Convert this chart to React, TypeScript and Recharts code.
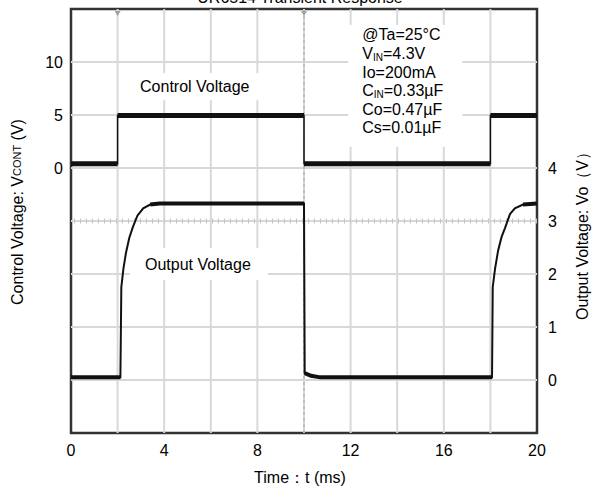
import React from 'react';
import {
  ComposedChart,
  Line,
  XAxis,
  YAxis,
  ReferenceLine,
  ReferenceArea,
  ReferenceDot,
} from 'recharts';

// ---- data ----
const timeTicks = [0, 4, 8, 12, 16, 20];
const gridTimes = [2, 4, 6, 8, 10, 12, 14, 16, 18];
const controlTicks = [0, 5, 10];
const outputTicks = [0, 1, 2, 3, 4];
const gridVo = [0, 1, 2, 3, 4, 5, 6];
const triggerTimes = [2, 10];

// Control voltage (V) vs time (ms)
const controlTimes = [0, 2, 2, 10, 10, 18, 18, 20];
const controlValues = [0.4, 0.4, 4.95, 4.95, 0.4, 0.4, 4.95, 4.95];

// Output voltage (V) vs time (ms)
const outputTimes = [
  0, 2.12, 2.16, 2.25, 2.36, 2.5, 2.65, 2.85, 3.1, 3.4, 3.8, 10.0, 10.03, 10.3, 10.7,
  18.07, 18.1, 18.2, 18.33, 18.48, 18.63, 18.84, 19.05, 19.4, 20,
];
const outputValues = [
  0.05, 0.05, 1.75, 2.1, 2.4, 2.68, 2.88, 3.1, 3.24, 3.31, 3.33, 3.33, 0.13, 0.08, 0.05,
  0.05, 1.75, 2.1, 2.44, 2.7, 2.87, 3.13, 3.24, 3.31, 3.33,
];
// time ranges where the output trace is flat (drawn thicker, like the scope trace)
const outputFlatRanges = [
  [0, 2.12],
  [3.4, 10],
  [10.03, 18.07],
  [19.4, 20],
];

const paramLines = ['@Ta=25°C', 'V|IN|=4.3V', 'Io=200mA', 'C|IN|=0.33µF', 'Co=0.47µF', 'Cs=0.01µF'];

// annotation boxes (data coordinates: time ms, output volts) – grid is hidden behind them
const ctrlBox = { x1: 2.62, x2: 8.24, y1: 5.28, y2: 5.79 };
const outBox = { x1: 2.53, x2: 8.45, y1: 1.89, y2: 2.49 };
const paramBox = { x1: 11.9, x2: 16.8, y1: 4.4, y2: 6.7 };
const boxes = [ctrlBox, outBox, paramBox];

// ---- derived tables ----
const controlData = controlTimes.map((t, i) => ({ t, v: controlValues[i] }));
const controlFlat: { t: number; v: number | null }[] = [];
for (let i = 0; i + 1 < controlTimes.length; i += 2) {
  controlFlat.push({ t: controlTimes[i], v: controlValues[i] });
  controlFlat.push({ t: controlTimes[i + 1], v: controlValues[i + 1] });
  controlFlat.push({ t: controlTimes[i + 1], v: null });
}
const outputData = outputTimes.map((t, i) => ({ t, v: outputValues[i] }));
const outputFlat: { t: number; v: number | null }[] = [];
outputFlatRanges.forEach(([a, b]) => {
  outputData.forEach((p) => {
    if (p.t >= a && p.t <= b) outputFlat.push({ t: p.t, v: p.v });
  });
  outputFlat.push({ t: b, v: null });
});

function subtract(lo: number, hi: number, cuts: number[][]) {
  const sorted = [...cuts].sort((a, b) => a[0] - b[0]);
  const res: number[][] = [];
  let s = lo;
  sorted.forEach(([a, b]) => {
    if (a > s) res.push([s, a]);
    s = Math.max(s, b);
  });
  if (s < hi) res.push([s, hi]);
  return res;
}

const vSegments: { key: string; seg: { x: number; y: number }[] }[] = [];
gridTimes.forEach((t) => {
  const cuts = boxes.filter((b) => b.x1 < t && t < b.x2).map((b) => [b.y1, b.y2]);
  subtract(-1, 7, cuts).forEach(([a, b], i) => {
    vSegments.push({ key: `v${t}-${i}`, seg: [{ x: t, y: a }, { x: t, y: b }] });
  });
});
const hSegments: { key: string; seg: { x: number; y: number }[] }[] = [];
gridVo.forEach((v) => {
  const cuts = boxes.filter((b) => b.y1 < v && v < b.y2).map((b) => [b.x1, b.x2]);
  subtract(0, 20, cuts).forEach(([a, b], i) => {
    hSegments.push({ key: `h${v}-${i}`, seg: [{ x: a, y: v }, { x: b, y: v }] });
  });
});

const FONT = '"Liberation Sans", Arial, Helvetica, sans-serif';
const GRID = '#d8d8d8';

const LeftAxisLabel = (props: any) => {
  const vb = props.viewBox;
  const cx = vb.x + vb.width - 54;
  const cy = vb.y + vb.height / 2 - 9;
  return (
    <text
      x={cx}
      y={cy}
      transform={`rotate(-90, ${cx}, ${cy})`}
      textAnchor="middle"
      dominantBaseline="central"
      fontSize={16}
      fill="#000"
      fontFamily={FONT}
    >
      Control Voltage: V<tspan fontSize={11}>CONT</tspan> (V)
    </text>
  );
};

const RightAxisLabel = (props: any) => {
  const vb = props.viewBox;
  const cx = vb.x + 45;
  const cy = vb.y + vb.height / 2 + 11;
  return (
    <text
      x={cx}
      y={cy}
      transform={`rotate(-90, ${cx}, ${cy})`}
      textAnchor="middle"
      dominantBaseline="central"
      fontSize={16}
      fill="#000"
      fontFamily={FONT}
    >
      Output Voltage: Vo（V）
    </text>
  );
};

const TimeLabel = (props: any) => {
  const vb = props.viewBox;
  const cx = vb.x + vb.width / 2 - 4;
  const cy = vb.y + 44;
  return (
    <text x={cx} y={cy} textAnchor="middle" dominantBaseline="central" fontSize={16} fill="#000" fontFamily={FONT}>
      Time：t (ms)
    </text>
  );
};

const ParamLabel = (props: any) => {
  const vb = props.viewBox;
  const x = vb.x + 14;
  return (
    <text fontSize={16} fill="#000" fontFamily={FONT}>
      {paramLines.map((line, i) => {
        const parts = line.split('|');
        const y = vb.y + 10 + i * 18.6;
        if (parts.length === 1) {
          return (
            <tspan key={i} x={x} y={y} dominantBaseline="central">
              {line}
            </tspan>
          );
        }
        return (
          <tspan key={i} x={x} y={y} dominantBaseline="central">
            {parts[0]}
            <tspan fontSize={10} dy={4}>
              {parts[1]}
            </tspan>
            <tspan dy={-4}>{parts[2]}</tspan>
          </tspan>
        );
      })}
    </text>
  );
};

const Trigger = (props: any) => {
  const { cx, cy } = props;
  return <polygon points={`${cx - 3},${cy + 2} ${cx + 3},${cy + 2} ${cx},${cy + 7}`} fill="#a0a0a0" />;
};

export default function App() {
  return (
    <div style={{ position: 'absolute', left: 0, top: 0, width: 593, height: 486, fontFamily: FONT, background: '#fff' }}>
      <div
        style={{
          position: 'absolute',
          left: 0,
          width: 600,
          top: -10,
          textAlign: 'center',
          fontSize: 16,
          lineHeight: '16px',
          color: '#000',
          whiteSpace: 'nowrap',
        }}
      >
        UR6514 Transient Response
      </div>
      <ComposedChart
        width={593}
        height={486}
        margin={{ top: 9, right: 0, bottom: 13, left: 21 }}
        style={{ fontFamily: FONT }}
      >
        <XAxis
          type="number"
          dataKey="t"
          domain={[0, 20]}
          ticks={timeTicks}
          allowDataOverflow
          height={40}
          tickLine={false}
          axisLine={false}
          tickSize={0}
          tickMargin={12}
          tick={{ fill: '#000', fontSize: 16 }}
          label={TimeLabel}
        />
        <YAxis
          yAxisId="vc"
          orientation="left"
          type="number"
          domain={[-25, 15]}
          ticks={controlTicks}
          allowDataOverflow
          width={50}
          tickLine={false}
          axisLine={false}
          tickSize={0}
          tickMargin={8}
          tick={{ fill: '#000', fontSize: 16 }}
          label={LeftAxisLabel}
        />
        <YAxis
          yAxisId="vo"
          orientation="right"
          type="number"
          domain={[-1, 7]}
          ticks={outputTicks}
          allowDataOverflow
          width={56}
          tickLine={false}
          axisLine={false}
          tickSize={0}
          tickMargin={11}
          tick={{ fill: '#000', fontSize: 16 }}
          label={RightAxisLabel}
        />

        {vSegments.map((s) => (
          <ReferenceLine key={s.key} yAxisId="vo" segment={s.seg} stroke={GRID} strokeWidth={2} ifOverflow="visible" />
        ))}
        {hSegments.map((s) => (
          <ReferenceLine key={s.key} yAxisId="vo" segment={s.seg} stroke={GRID} strokeWidth={2} ifOverflow="visible" />
        ))}
        <ReferenceLine yAxisId="vo" y={3} stroke="#c4c4c4" strokeWidth={5} strokeDasharray="1 5" />
        <ReferenceLine yAxisId="vo" x={10} stroke="#b4b4b4" strokeWidth={1.5} strokeDasharray="3 3" />
        {triggerTimes.map((t) => (
          <ReferenceDot key={t} yAxisId="vo" x={t} y={7} r={3} shape={Trigger} />
        ))}

        <ReferenceArea
          yAxisId="vo"
          {...ctrlBox}
          fill="none"
          fillOpacity={0}
          stroke="none"
          label={{ value: 'Control Voltage', position: 'insideLeft', offset: 8, fontSize: 16, fill: '#000' }}
        />
        <ReferenceArea
          yAxisId="vo"
          {...outBox}
          fill="none"
          fillOpacity={0}
          stroke="none"
          label={{ value: 'Output Voltage', position: 'insideLeft', offset: 15, fontSize: 16, fill: '#000' }}
        />
        <ReferenceArea
          yAxisId="vo"
          {...paramBox}
          fill="none"
          fillOpacity={0}
          stroke="none"
          label={ParamLabel}
        />

        <Line
          yAxisId="vc"
          data={controlData}
          dataKey="v"
          type="linear"
          stroke="#111"
          strokeWidth={1.5}
          dot={false}
          activeDot={false}
          isAnimationActive={false}
        />
        <Line
          yAxisId="vc"
          data={controlFlat}
          dataKey="v"
          type="linear"
          stroke="#111"
          strokeWidth={5}
          dot={false}
          activeDot={false}
          connectNulls={false}
          isAnimationActive={false}
        />
        <Line
          yAxisId="vo"
          data={outputData}
          dataKey="v"
          type="linear"
          stroke="#111"
          strokeWidth={2}
          dot={false}
          activeDot={false}
          isAnimationActive={false}
        />
        <Line
          yAxisId="vo"
          data={outputFlat}
          dataKey="v"
          type="linear"
          stroke="#111"
          strokeWidth={4}
          dot={false}
          activeDot={false}
          connectNulls={false}
          isAnimationActive={false}
        />

        <ReferenceArea
          yAxisId="vo"
          x1={0}
          x2={20}
          y1={-1}
          y2={7}
          fill="none"
          fillOpacity={0}
          stroke="#333"
          strokeWidth={2.5}
        />
      </ComposedChart>
    </div>
  );
}
